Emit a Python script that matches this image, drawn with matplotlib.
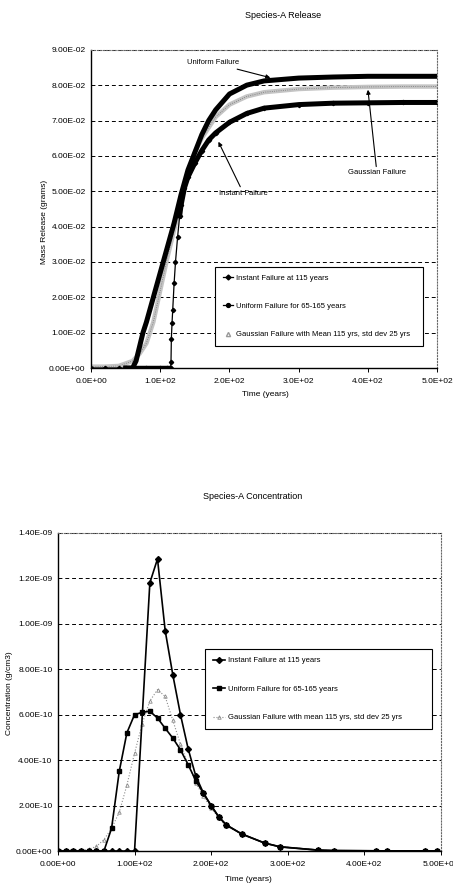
import numpy as np
import matplotlib
matplotlib.use('Agg')
import matplotlib.pyplot as plt
from matplotlib.lines import Line2D
from matplotlib.ticker import FuncFormatter, MultipleLocator

plt.rcParams['font.family'] = ['Liberation Sans Narrow', 'Liberation Sans', 'DejaVu Sans']

# ---- Species-A Release (grams) ----
t_inst_rel = [0, 20, 40, 50, 60, 80, 100, 110, 114, 115, 115.5, 116, 117, 118, 120, 122, 125,
              128, 130, 135, 140, 150, 160, 170, 180, 200, 225, 250, 300, 350, 400, 450, 500]
rel_inst = [0, 0, 0, 0, 0, 0, 0, 0, 0, 0.0, 0.0018, 0.0082, 0.0128, 0.0165, 0.024, 0.030, 0.037,
            0.043, 0.046, 0.051, 0.054, 0.058, 0.0615, 0.0645, 0.0665, 0.0695, 0.072, 0.0735,
            0.0745, 0.0749, 0.0750, 0.0751, 0.0751]

t_unif_rel = [50, 60, 65, 70, 75, 80, 90, 100, 110, 120, 130, 140, 150, 160, 170, 180, 200,
              225, 250, 300, 350, 400, 450, 500]
rel_unif = [0, 0, 0.002, 0.006, 0.010, 0.013, 0.020, 0.027, 0.034, 0.041, 0.049, 0.056, 0.061,
            0.066, 0.070, 0.073, 0.0775, 0.0800, 0.0812, 0.0820, 0.0823, 0.0825, 0.0825, 0.0825]

t_gaus_rel = [0, 20, 40, 60, 70, 80, 90, 100, 110, 120, 130, 140, 150, 160, 170, 180, 200,
              225, 250, 300, 350, 400, 450, 500]
rel_gaus = [0.0004, 0.0004, 0.0006, 0.002, 0.004, 0.007, 0.013, 0.022, 0.031, 0.039, 0.047,
            0.055, 0.061, 0.065, 0.068, 0.071, 0.0745, 0.0768, 0.0780, 0.0789, 0.0793, 0.0795,
            0.0796, 0.0796]

# ---- Species-A Concentration (g/cm3), units of 1e-9 ----
t_conc = [0, 10, 20, 30, 40, 50, 60, 70, 80, 90, 100, 110, 120, 130, 140, 150, 160, 170, 180,
          190, 200, 210, 220, 240, 270, 290, 340, 360, 415, 430, 480, 495]
conc_inst = [0, 0, 0, 0, 0, 0, 0, 0, 0, 0, 0, None, 1.18, 1.285, 0.97, 0.775, 0.60, 0.45, 0.33,
             0.255, 0.20, 0.15, 0.115, 0.075, 0.035, 0.019, 0.004, 0.002, 0.001, 0.0008,
             0.0005, 0.0004]
conc_unif = [0, 0, 0, 0, 0, 0, 0, 0.10, 0.35, 0.52, 0.60, 0.61, 0.615, 0.585, 0.54, 0.497,
             0.445, 0.38, 0.31, 0.254, 0.20, 0.151, 0.114, 0.075, 0.035, 0.018, 0.004, 0.002,
             0.001, 0.0008, 0.0005, 0.0004]
conc_gaus = [0.005, 0.005, 0.005, 0.005, 0.008, 0.02, 0.05, 0.10, 0.17, 0.29, 0.43, 0.56,
             0.66, 0.71, 0.68, 0.575, 0.47, 0.38, 0.30, 0.24, 0.19, 0.145, 0.11, 0.075, 0.035,
             0.02, 0.004, 0.002, 0.001, 0.0008, 0.0005, 0.0004]

lbl_inst = 'Instant Failure at 115 years'
lbl_unif = 'Uniform Failure for 65-165 years'
lbl_gaus_top = 'Gaussian Failure with Mean 115 yrs, std dev 25 yrs'
lbl_gaus_bot = 'Gaussian Failure with mean 115 yrs, std dev 25 yrs'

fig = plt.figure(figsize=(4.53, 8.89), dpi=100)
fs = 6
lfs = 5.5


def style_axes(ax):
    for s in ['top', 'right']:
        ax.spines[s].set_linestyle(':')
        ax.spines[s].set_color('#666666')
        ax.spines[s].set_linewidth(0.8)
    for s in ['left', 'bottom']:
        ax.spines[s].set_linewidth(1.0)
    ax.yaxis.grid(True, linestyle=(0, (4, 3)), color='black', linewidth=0.7)
    ax.set_axisbelow(True)
    ax.tick_params(labelsize=fs, length=3, width=0.7, pad=4)
    ax.tick_params(axis='y', length=0)


# ---------- top chart ----------
ax1 = fig.add_axes([0.201, 0.586, 0.764, 0.358])
style_axes(ax1)

ax1.plot(t_gaus_rel, rel_gaus, color='#c4c4c4', lw=3.2, solid_capstyle='butt')
ax1.plot(t_gaus_rel, rel_gaus, color='#777777', lw=0.6, ls=':')
ax1.plot(t_unif_rel, rel_unif, color='black', lw=3.6)

ti = np.array(t_inst_rel, dtype=float)
ri = np.array(rel_inst, dtype=float)
ax1.plot(ti, ri, color='black', lw=0.9, marker='D', ms=2.2)
thick = np.where((ti >= 50) & ((ti <= 114) | (ti >= 128)), ri, np.nan)
ax1.plot(ti[ti <= 114], thick[ti <= 114], color='black', lw=3.2)
ax1.plot(ti[ti >= 128], thick[ti >= 128], color='black', lw=3.6)

ax1.set_xlim(0, 500)
ax1.set_ylim(0, 0.09)
ax1.xaxis.set_major_locator(MultipleLocator(100))
ax1.yaxis.set_major_locator(MultipleLocator(0.01))
ax1.xaxis.set_major_formatter(FuncFormatter(lambda v, p: '%.1E' % v))
ax1.yaxis.set_major_formatter(FuncFormatter(lambda v, p: '%.2E' % v))

arrow = dict(arrowstyle='-|>', color='black', lw=0.8, mutation_scale=6, shrinkA=0, shrinkB=0)
ax1.annotate('Uniform Failure', xy=(259, 0.0821), xytext=(176, 0.0863), fontsize=lfs,
             ha='center', va='center', arrowprops=arrow)
ax1.annotate('Gaussian Failure', xy=(400, 0.0787), xytext=(413, 0.0552), fontsize=lfs,
             ha='center', va='center', arrowprops=arrow)
ax1.annotate('Instant Failure', xy=(184, 0.064), xytext=(220, 0.0495), fontsize=lfs,
             ha='center', va='center', arrowprops=arrow)

handles1 = [
    Line2D([], [], color='black', lw=0.9, marker='D', ms=2.5),
    Line2D([], [], color='black', lw=0.9, marker='o', ms=2.8),
    Line2D([], [], color='#999999', lw=0, marker='^', ms=3, mfc='none'),
]
leg1 = ax1.legend(handles1, [lbl_inst, lbl_unif, lbl_gaus_top], loc='lower left',
                  bbox_to_anchor=(0.358, 0.069, 0.602, 0.252), mode='expand', fontsize=lfs,
                  frameon=True, fancybox=False, edgecolor='black', framealpha=1,
                  handlelength=1.3, handletextpad=0.4, labelspacing=2.75, borderpad=1.0,
                  borderaxespad=0)
leg1.get_frame().set_linewidth(0.8)

fig.text(0.625, 0.983, 'Species-A Release', fontsize=fs + 0.5, ha='center', va='center')
fig.text(0.585, 0.556, 'Time (years)', fontsize=fs, ha='center', va='center')
fig.text(0.099, 0.750, 'Mass Release (grams)', fontsize=fs, ha='center', va='center',
         rotation=90)

# ---------- bottom chart ----------
ax2 = fig.add_axes([0.128, 0.0427, 0.845, 0.358])
style_axes(ax2)

tc = np.array(t_conc, dtype=float)
ci = np.array([np.nan if v is None else v for v in conc_inst], dtype=float) * 1e-9
ok = ~np.isnan(ci)
cu = np.array(conc_unif) * 1e-9
cg = np.array(conc_gaus) * 1e-9

ax2.plot(tc, cg, color='#8c8c8c', lw=0.8, ls=':', marker='^', ms=2.5, mfc='none',
         mew=0.6, label=lbl_gaus_bot)
ax2.plot(tc, cu, color='black', lw=1.2, marker='s', ms=3.2, label=lbl_unif)
ax2.plot(tc[ok], ci[ok], color='black', lw=1.2, marker='D', ms=3.0, label=lbl_inst)

ax2.set_xlim(0, 500)
ax2.set_ylim(0, 1.4e-9)
ax2.xaxis.set_major_locator(MultipleLocator(100))
ax2.yaxis.set_major_locator(MultipleLocator(2e-10))
ax2.xaxis.set_major_formatter(FuncFormatter(lambda v, p: '%.2E' % v))
ax2.yaxis.set_major_formatter(FuncFormatter(lambda v, p: '%.2E' % v))

h, l = ax2.get_legend_handles_labels()
leg2 = ax2.legend(h[::-1], l[::-1], loc='lower left',
                  bbox_to_anchor=(0.384, 0.384, 0.592, 0.251), mode='expand', fontsize=lfs,
                  frameon=True, fancybox=False, edgecolor='black', framealpha=1,
                  handlelength=1.6, handletextpad=0.4, labelspacing=2.75, borderpad=1.0,
                  borderaxespad=0)
leg2.get_frame().set_linewidth(0.8)

fig.text(0.558, 0.442, 'Species-A Concentration', fontsize=fs + 0.5, ha='center', va='center')
fig.text(0.548, 0.011, 'Time (years)', fontsize=fs, ha='center', va='center')
fig.text(0.022, 0.220, 'Concentration (g/cm3)', fontsize=fs, ha='center', va='center',
         rotation=90)

fig.savefig('out.png', dpi=100)
